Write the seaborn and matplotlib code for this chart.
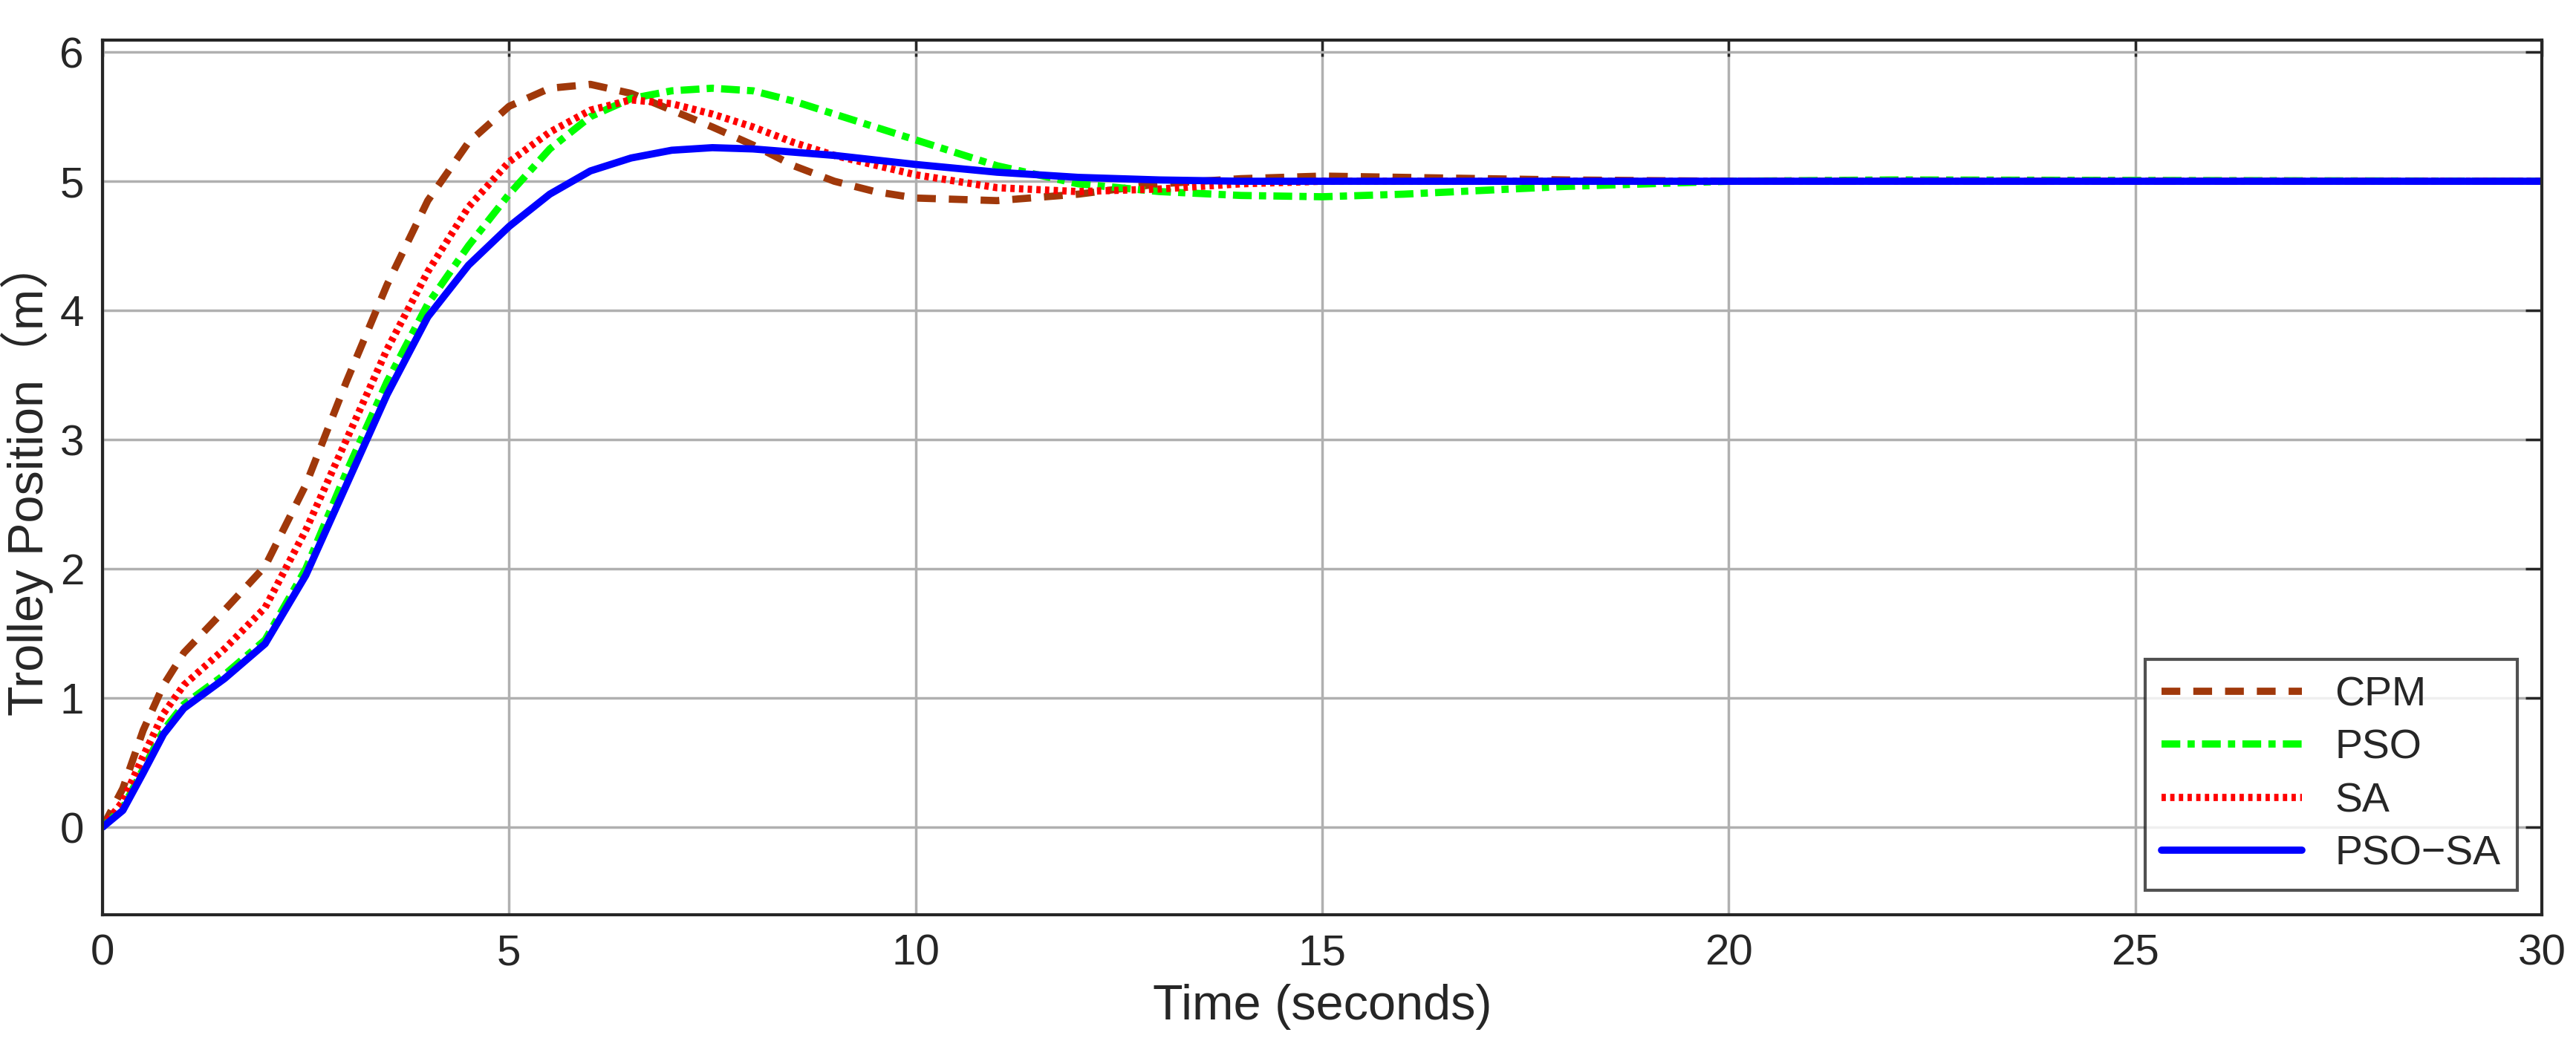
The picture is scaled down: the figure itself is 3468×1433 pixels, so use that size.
import matplotlib
matplotlib.use("Agg")
import matplotlib.pyplot as plt
import seaborn as sns
import pandas as pd

t_cpm = [0, 0.25, 0.5, 0.75, 1, 1.5, 2, 2.5, 3, 3.5, 4, 4.5, 5, 5.5, 6, 6.5, 7, 7.5, 8, 8.5, 9, 9.5, 10, 11, 12, 13, 14, 15, 16, 18, 20, 30]
cpm = [0, 0.3, 0.75, 1.1, 1.35, 1.68, 2.02, 2.65, 3.45, 4.2, 4.85, 5.3, 5.58, 5.72, 5.75, 5.68, 5.55, 5.42, 5.28, 5.12, 5.0, 4.92, 4.87, 4.85, 4.9, 4.98, 5.02, 5.04, 5.03, 5.01, 5.0, 5.0]

t_pso = [0, 0.25, 0.5, 0.75, 1, 1.5, 2, 2.5, 3, 3.5, 4, 4.5, 5, 5.5, 6, 6.5, 7, 7.5, 8, 8.5, 9, 9.5, 10, 11, 12, 13, 14, 15, 16, 17, 18, 20, 22, 30]
pso = [0, 0.15, 0.45, 0.75, 0.95, 1.18, 1.45, 2.0, 2.75, 3.45, 4.05, 4.5, 4.9, 5.25, 5.5, 5.64, 5.7, 5.72, 5.7, 5.62, 5.52, 5.42, 5.32, 5.12, 4.98, 4.92, 4.89, 4.88, 4.9, 4.93, 4.96, 5.0, 5.01, 5.0]

t_sa = [0, 0.25, 0.5, 0.75, 1, 1.5, 2, 2.5, 3, 3.5, 4, 4.5, 5, 5.5, 6, 6.5, 7, 7.5, 8, 8.5, 9, 10, 11, 12, 13, 14, 15, 20, 30]
sa = [0, 0.2, 0.55, 0.88, 1.1, 1.38, 1.7, 2.3, 3.0, 3.7, 4.3, 4.8, 5.15, 5.38, 5.55, 5.63, 5.6, 5.52, 5.42, 5.3, 5.2, 5.05, 4.95, 4.92, 4.94, 4.98, 5.0, 5.0, 5.0]

t_psosa = [0, 0.25, 0.5, 0.75, 1, 1.5, 2, 2.5, 3, 3.5, 4, 4.5, 5, 5.5, 6, 6.5, 7, 7.5, 8, 9, 10, 11, 12, 13, 14, 30]
psosa = [0, 0.13, 0.42, 0.72, 0.92, 1.15, 1.42, 1.95, 2.65, 3.35, 3.95, 4.35, 4.65, 4.9, 5.08, 5.18, 5.24, 5.26, 5.25, 5.2, 5.13, 5.07, 5.03, 5.01, 5.0, 5.0]

sns.set_style("white")
plt.rcParams['font.family'] = ['Liberation Sans', 'Noto Sans CJK SC', 'DejaVu Sans']

fig = plt.figure(figsize=(34.68, 14.33), dpi=100)
ax = fig.add_axes([0.0398, 0.140, 0.947, 0.822])

series = [
    ("CPM", t_cpm, cpm, "#A0380A", (0, (2.6, 1.8))),
    ("PSO", t_pso, pso, "#00FF00", (0, (2.6, 1.0, 1.0, 1.0))),
    ("SA", t_sa, sa, "#FF0000", (0, (0.6, 0.6))),
    ("PSO\u2212SA", t_psosa, psosa, "#0000FF", "-"),
]
for name, t, y, c, ls in series:
    df = pd.DataFrame({"t": t, "y": y})
    sns.lineplot(data=df, x="t", y="y", ax=ax, color=c, linestyle=ls, linewidth=7, label=name)

ax.set_xlim(0, 30)
ax.set_ylim(-0.68, 6.09)
ax.set_xticks([0, 5, 10, 15, 20, 25, 30])
ax.set_yticks([0, 1, 2, 3, 4, 5, 6])
ax.grid(True, color="#b0b0b0", linewidth=2.5)
ax.tick_params(direction="in", labelsize=42, length=16, width=2.5, colors="#262626", pad=18, top=True, right=True)
for s in ax.spines.values():
    s.set_color("#262626")
    s.set_linewidth(3)
ax.set_xlabel("Time (seconds)", fontsize=48, labelpad=10)
ax.set_ylabel("Trolley Position（m）", fontsize=48, labelpad=6)
leg = ax.legend(loc="lower right", fontsize=40, frameon=True, fancybox=False, edgecolor="#262626",
                borderaxespad=0.6, handlelength=3.4, labelspacing=0.35)
leg.get_frame().set_linewidth(3)
fig.savefig("out.png", dpi=100)
